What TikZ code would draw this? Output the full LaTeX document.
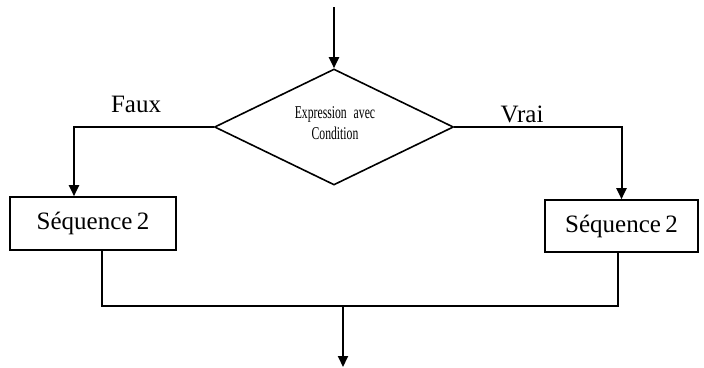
\documentclass[tikz,border=0pt]{standalone}
\usepackage{fontspec}
\setmainfont{Liberation Serif}
\newfontfamily\etroite[FakeStretch=0.65]{Liberation Serif}
\usetikzlibrary{shapes.geometric,arrows.meta}

\begin{document}
\begin{tikzpicture}
	 [x=1pt,y=-1pt,line width=1.6pt,
	  every node/.style={inner sep=0pt},
	  bloc/.style={draw,rectangle,font=\fontsize{25}{30}\selectfont},
	  fleche/.style={-{Triangle[width=10pt,length=11pt]},line width=2pt}]
	 \useasboundingbox (0,0) rectangle (704,367);

	  \node (cond)[diamond,draw,minimum width=239pt,minimum height=116pt] at (334,127) {};
	  \node (l1)[anchor=base,font=\etroite\fontsize{18}{21}\selectfont] at (335,118) {Expression\hspace{4pt} avec};
	  \node (l2)[anchor=base,font=\etroite\fontsize{18}{21}\selectfont] at (335,139) {Condition};

	  \node (seqg)[bloc,minimum width=166pt,minimum height=53pt] at (93,223.5) {Séquence\hspace{-2pt} 2};
	  \node (seqd)[bloc,minimum width=153pt,minimum height=52pt] at (621.5,226) {Séquence\hspace{-2pt} 2};

	  \node (faux)[anchor=base,font=\fontsize{25}{30}\selectfont] at (136,112) {Faux};
	  \node (vrai)[anchor=base,font=\fontsize{25}{30}\selectfont] at (522,122) {Vrai};

	  \coordinate (debut) at (334,7);
	  \coordinate (fin) at (343,367);
	  \coordinate (jg) at (102,306);
	  \coordinate (jd) at (618,306);
	  \coordinate (jm) at (343,306);

	\draw[fleche] (debut) -- (cond.north);
	\draw[fleche] (cond.west) -| ([xshift=-19pt]seqg.north);
	\draw[fleche] (cond.east) -| (seqd.north);
	\draw ([xshift=9pt]seqg.south) -- (jg) -- (jd) -- ([xshift=-3.5pt]seqd.south);
	\draw[fleche] (jm) -- (fin);

\end{tikzpicture}
\end{document}
